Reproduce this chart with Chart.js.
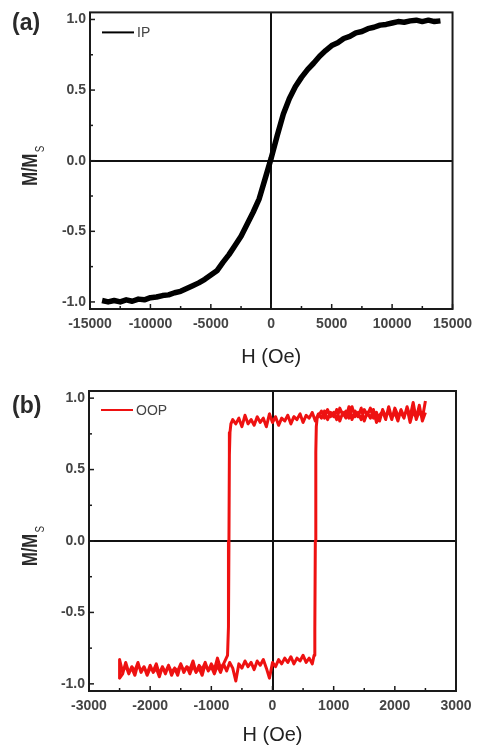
<!DOCTYPE html>
<html>
<head>
<meta charset="utf-8">
<script src="https://cdn.jsdelivr.net/npm/chart.js@4.4.1/dist/chart.umd.min.js"></script>
<style>
body { margin: 0; background: #fff; }
.panel { position: absolute; left: 0; width: 479px; height: 376px; }
</style>
</head>
<body>
<div class="panel" style="top:0"><canvas id="chartIP" width="479" height="376"></canvas></div>
<div class="panel" style="top:376px"><canvas id="chartOOP" width="479" height="376"></canvas></div>
<script>
// (a) in-plane loop, H in Oe, M/Ms
const hIP = [-14000, -13500, -13000, -12500, -12000, -11500, -11000, -10500, -10000, -9500,
    -9000, -8500, -8000, -7500, -7000, -6500, -6000, -5500, -5000, -4500,
    -4000, -3500, -3000, -2500, -2000, -1500, -1000, -500, 0, 500,
    1000, 1500, 2000, 2500, 3000, 3500, 4000, 4500, 5000, 5500,
    6000, 6500, 7000, 7500, 8000, 8500, 9000, 9500, 10000, 10500,
    11000, 11500, 12000, 12500, 13000, 13500, 14000];
const mIP = [-0.99, -1.0, -0.99, -1.0, -0.985, -0.995, -0.98, -0.985, -0.97, -0.965,
    -0.955, -0.95, -0.935, -0.925, -0.905, -0.885, -0.865, -0.84, -0.81, -0.78,
    -0.72, -0.665, -0.6, -0.535, -0.45, -0.365, -0.27, -0.125, 0.02, 0.18,
    0.33, 0.44, 0.525, 0.59, 0.645, 0.69, 0.74, 0.78, 0.815, 0.835,
    0.865, 0.88, 0.905, 0.915, 0.935, 0.945, 0.96, 0.965, 0.975, 0.985,
    0.98, 0.99, 0.995, 0.985, 0.995, 0.985, 0.99];

// (b) out-of-plane loop: descending branch then ascending branch
const hOOPdown = [2500, 2450, 2400, 2350, 2300, 2250, 2200, 2150, 2100, 2050,
    2000, 1950, 1900, 1850, 1800, 1750, 1700, 1650, 1600, 1550,
    1500, 1450, 1400, 1350, 1300, 1250, 1200, 1150, 1100, 1050,
    1000, 950, 900, 850, 800, 750, 700, 650, 600, 550,
    500, 450, 400, 350, 300, 250, 200, 150, 100, 50,
    0, -50, -100, -150, -200, -250, -300, -350, -400, -450,
    -500, -550, -600, -650,
    -680, -695, -705, -712, -720, -735,
    -800, -850, -900, -950, -1000, -1050, -1100, -1150, -1200, -1250,
    -1300, -1350, -1400, -1450, -1500, -1550, -1600, -1650, -1700, -1750,
    -1800, -1850, -1900, -1950, -2000, -2050, -2100, -2150, -2200, -2250,
    -2300, -2350, -2400, -2450, -2500];
const mOOPdown = [0.90, 0.84, 0.95, 0.86, 0.91, 0.83, 0.93, 0.87, 0.92, 0.84,
    0.90, 0.86, 0.94, 0.85, 0.91, 0.88, 0.83, 0.92, 0.86, 0.90,
    0.84, 0.93, 0.87, 0.91, 0.85, 0.94, 0.86, 0.90, 0.84, 0.92,
    0.87, 0.90, 0.85, 0.91, 0.86, 0.89, 0.84, 0.90, 0.86, 0.88,
    0.83, 0.89, 0.85, 0.87, 0.82, 0.88, 0.84, 0.86, 0.81, 0.87,
    0.83, 0.89, 0.80, 0.86, 0.83, 0.87, 0.81, 0.85, 0.82, 0.88,
    0.80, 0.86, 0.82, 0.85,
    0.82, 0.76, 0.6, 0.0, -0.6, -0.8,
    -0.86, -0.92, -0.87, -0.93, -0.88, -0.91, -0.86, -0.94, -0.89, -0.92,
    -0.87, -0.93, -0.88, -0.91, -0.86, -0.94, -0.89, -0.92, -0.87, -0.93,
    -0.88, -0.95, -0.89, -0.92, -0.87, -0.93, -0.88, -0.91, -0.86, -0.94,
    -0.89, -0.92, -0.85, -0.93, -0.96];
const hOOPup = [-2500, -2450, -2400, -2350, -2300, -2250, -2200, -2150, -2100, -2050,
    -2000, -1950, -1900, -1850, -1800, -1750, -1700, -1650, -1600, -1550,
    -1500, -1450, -1400, -1350, -1300, -1250, -1200, -1150, -1100, -1050,
    -1000, -950, -900, -850, -800, -750, -700, -650, -600, -550,
    -500, -450, -400, -350, -300, -250, -200, -150, -100, -50,
    0, 50, 100, 150, 200, 250, 300, 350, 400, 450,
    500, 550, 600, 650,
    680, 692, 700, 708, 716, 730,
    800, 850, 900, 950, 1000, 1050, 1100, 1150, 1200, 1250,
    1300, 1350, 1400, 1450, 1500, 1550, 1600, 1650, 1700, 1750,
    1800, 1850, 1900, 1950, 2000, 2050, 2100, 2150, 2200, 2250,
    2300, 2350, 2400, 2450, 2500];
const mOOPup = [-0.83, -0.92, -0.87, -0.93, -0.88, -0.91, -0.85, -0.92, -0.88, -0.94,
    -0.89, -0.91, -0.86, -0.93, -0.88, -0.92, -0.87, -0.94, -0.89, -0.91,
    -0.86, -0.92, -0.88, -0.90, -0.84, -0.92, -0.87, -0.90, -0.85, -0.91,
    -0.86, -0.90, -0.82, -0.89, -0.86, -0.91, -0.85, -0.89, -0.98, -0.86,
    -0.89, -0.84, -0.88, -0.85, -0.90, -0.84, -0.87, -0.83, -0.89, -0.96,
    -0.85, -0.88, -0.83, -0.86, -0.82, -0.85, -0.81, -0.86, -0.82, -0.84,
    -0.80, -0.85, -0.82, -0.86,
    -0.8, -0.62, 0.0, 0.62, 0.8, 0.86,
    0.91, 0.86, 0.92, 0.87, 0.90, 0.85, 0.93, 0.88, 0.91, 0.86,
    0.94, 0.87, 0.90, 0.85, 0.92, 0.88, 0.93, 0.86, 0.90, 0.84,
    0.92, 0.87, 0.91, 0.85, 0.93, 0.88, 0.90, 0.86, 0.94, 0.87,
    0.97, 0.85, 0.91, 0.86, 0.98];

const xTicksIP = [-15000, -12500, -10000, -7500, -5000, -2500, 0, 2500, 5000, 7500, 10000, 12500, 15000];
const xLabelsIP = [-15000, -10000, -5000, 0, 5000, 10000, 15000];
const xTicksOOP = [-3000, -2500, -2000, -1500, -1000, -500, 0, 500, 1000, 1500, 2000, 2500, 3000];
const xLabelsOOP = [-3000, -2000, -1000, 0, 1000, 2000, 3000];
const yTicks = [-1, -0.75, -0.5, -0.25, 0, 0.25, 0.5, 0.75, 1];
const yLabels = [-1, -0.5, 0, 0.5, 1];

Chart.defaults.font.family = "'Liberation Sans', Arial, sans-serif";

function toPoints(h, m) {
    return h.map((x, i) => ({ x: x, y: m[i] }));
}

// frame, inward ticks, legend, panel letter, y title
const decorPlugin = {
    id: 'decor',
    afterDatasetsDraw(chart, args, opts) {
        const ctx = chart.ctx;
        const a = chart.chartArea;
        const xs = chart.scales.x;
        const ys = chart.scales.y;
        ctx.save();
        ctx.strokeStyle = '#1a1a1a';
        ctx.lineWidth = 2;
        ctx.strokeRect(a.left, a.top, a.right - a.left, a.bottom - a.top);
        ctx.lineWidth = 1.5;
        xs.ticks.forEach((t) => {
            const px = xs.getPixelForValue(t.value);
            const len = opts.xLabels.includes(t.value) ? 5 : 3;
            ctx.beginPath();
            ctx.moveTo(px, a.bottom);
            ctx.lineTo(px, a.bottom - len);
            ctx.stroke();
        });
        ys.ticks.forEach((t) => {
            const py = ys.getPixelForValue(t.value);
            const len = yLabels.includes(t.value) ? 5 : 3;
            ctx.beginPath();
            ctx.moveTo(a.left, py);
            ctx.lineTo(a.left + len, py);
            ctx.stroke();
        });
        // legend
        const ds = chart.data.datasets[0];
        const ly = a.top + opts.legendDy;
        ctx.strokeStyle = ds.borderColor;
        ctx.lineWidth = 2;
        ctx.beginPath();
        ctx.moveTo(a.left + 12, ly);
        ctx.lineTo(a.left + 44, ly);
        ctx.stroke();
        ctx.fillStyle = '#444';
        ctx.font = "14px 'Liberation Sans', Arial, sans-serif";
        ctx.textBaseline = 'middle';
        ctx.textAlign = 'left';
        ctx.fillText(ds.label, a.left + 47, ly + 1);
        ctx.restore();
    },
    afterDraw(chart, args, opts) {
        const ctx = chart.ctx;
        const a = chart.chartArea;
        ctx.save();
        ctx.fillStyle = '#2a2a2a';
        ctx.font = "bold 23px 'Liberation Sans', Arial, sans-serif";
        ctx.textBaseline = 'middle';
        ctx.textAlign = 'left';
        ctx.fillText(opts.letter, 12, opts.letterY);
        // M/M_S rotated
        ctx.translate(29, (a.top + a.bottom) / 2 + 5);
        ctx.rotate(-Math.PI / 2);
        ctx.scale(0.75, 1);
        ctx.font = "bold 22px 'Liberation Sans', Arial, sans-serif";
        const wMain = ctx.measureText('M/M').width;
        ctx.font = "13px 'Liberation Sans', Arial, sans-serif";
        const wSub = ctx.measureText('S').width;
        const start = -(wMain + wSub + 2) / 2;
        ctx.font = "bold 22px 'Liberation Sans', Arial, sans-serif";
        ctx.textBaseline = 'alphabetic';
        ctx.fillText('M/M', start, 8);
        ctx.font = "13px 'Liberation Sans', Arial, sans-serif";
        ctx.fillText('S', start + wMain + 2, 15);
        ctx.restore();
    }
};

function makeChart(id, cfg) {
    const canvas = document.getElementById(id);
    return new Chart(canvas, {
        type: 'scatter',
        data: {
            datasets: [{
                label: cfg.label,
                data: cfg.points,
                showLine: true,
                borderColor: cfg.color,
                backgroundColor: cfg.color,
                borderWidth: cfg.lineWidth,
                borderJoinStyle: 'round',
                pointRadius: 0,
                tension: 0
            }]
        },
        options: {
            responsive: false,
            animation: false,
            layout: { padding: { left: 0, right: 479 - cfg.right, top: cfg.top, bottom: 0 } },
            plugins: {
                legend: { display: false },
                tooltip: { enabled: false },
                decor: { xLabels: cfg.xLabels, legendDy: cfg.legendDy, letter: cfg.letter, letterY: cfg.letterY }
            },
            scales: {
                x: {
                    type: 'linear',
                    min: cfg.xTicks[0],
                    max: cfg.xTicks[cfg.xTicks.length - 1],
                    afterBuildTicks: (s) => { s.ticks = cfg.xTicks.map((v) => ({ value: v })); },
                    afterFit: (s) => { s.height = 376 - cfg.bottom; },
                    border: { display: false },
                    grid: {
                        drawTicks: false,
                        lineWidth: 2,
                        color: (c) => (c.tick && c.tick.value === 0 ? '#111' : 'rgba(0,0,0,0)')
                    },
                    ticks: {
                        padding: cfg.xPad,
                        color: '#444',
                        font: { size: 14, weight: 'bold' },
                        maxRotation: 0,
                        autoSkip: false,
                        callback: (v) => (cfg.xLabels.includes(v) ? String(v) : '')
                    },
                    title: {
                        display: true,
                        text: 'H (Oe)',
                        color: '#222',
                        font: { size: 20 },
                        padding: { top: 0, bottom: cfg.titlePad }
                    }
                },
                y: {
                    type: 'linear',
                    min: -1.05,
                    max: 1.05,
                    afterBuildTicks: (s) => { s.ticks = yTicks.map((v) => ({ value: v })); },
                    afterFit: (s) => { s.width = cfg.left; },
                    border: { display: false },
                    grid: {
                        drawTicks: false,
                        lineWidth: 2,
                        color: (c) => (c.tick && c.tick.value === 0 ? '#111' : 'rgba(0,0,0,0)')
                    },
                    ticks: {
                        padding: 4,
                        color: '#444',
                        font: { size: 14, weight: 'bold' },
                        autoSkip: false,
                        callback: (v) => (yLabels.includes(v) ? v.toFixed(1) : '')
                    }
                }
            }
        },
        plugins: [decorPlugin]
    });
}

makeChart('chartIP', {
    label: 'IP',
    points: toPoints(hIP, mIP),
    color: '#000',
    lineWidth: 5.5,
    xTicks: xTicksIP,
    xLabels: xLabelsIP,
    left: 90, right: 456, top: 11, bottom: 309,
    xPad: 7, titlePad: 7, legendDy: 20,
    letter: '(a)', letterY: 24
});

makeChart('chartOOP', {
    label: 'OOP',
    points: toPoints(hOOPdown.concat(hOOPup), mOOPdown.concat(mOOPup)),
    color: '#ee1111',
    lineWidth: 3,
    xTicks: xTicksOOP,
    xLabels: xLabelsOOP,
    left: 89, right: 456, top: 15, bottom: 315,
    xPad: 7, titlePad: 5, legendDy: 19,
    letter: '(b)', letterY: 31
});
</script>
</body>
</html>
